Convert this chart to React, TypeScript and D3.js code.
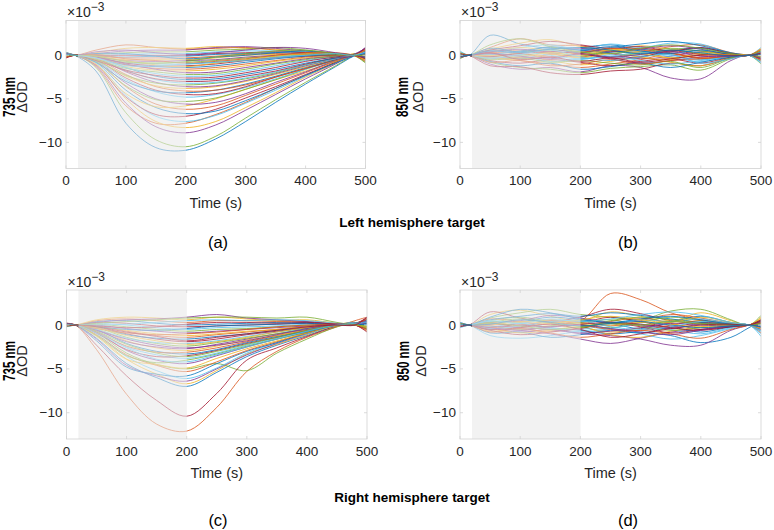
import React from 'react';
import * as d3 from 'd3';

// sample times (s) for every trace knot
const TIMES = [0, 15, 50, 100, 150, 200, 250, 300, 350, 400, 450, 480, 500];
const X_TICKS = [0, 100, 200, 300, 400, 500];
const Y_TICKS = [-10, -5, 0];
const Y_DOMAIN = [-13, 4];
const STIM = [20, 200];
const COLORS = ['#0072BD', '#D95319', '#EDB120', '#7E2F8E', '#77AC30', '#4DBEEE', '#A2142F'];

// ΔOD ×10^-3, left hemisphere target, 735 nm
const LEFT_735: number[][] = [
  [0.3, 0, -1.8, -7.8, -10.6, -10.9, -9.6, -7.6, -5.4, -3.3, -1.3, -0.1, 0.4],
  [-0.3, 0, -1.3, -5.8, -7.8, -7.8, -6.8, -5.4, -3.8, -2.3, -0.8, 0.1, 0.2],
  [0.2, 0, -1.0, -5.0, -7.6, -8.3, -7.6, -6.0, -4.3, -2.5, -0.9, 0.2, -0.3],
  [0.1, 0, -1.2, -5.5, -8.2, -8.9, -8.0, -6.3, -4.5, -2.7, -1.0, 0.1, 0.5],
  [-0.2, 0, -1.4, -6.6, -9.7, -10.5, -9.3, -7.2, -5.1, -3.1, -1.2, 0, 0.6],
  [0.1, 0, -0.9, -4.6, -7.0, -7.6, -6.9, -5.5, -4.0, -2.4, -0.8, 0, 0.7],
  [0.2, 0, -1.1, -4.8, -6.8, -7.0, -6.2, -4.9, -3.6, -2.2, -0.8, 0.1, -0.4],
  [-0.1, 0, -0.8, -4.0, -6.0, -6.7, -6.4, -5.2, -3.8, -2.3, -0.9, -0.1, 0.3],
  [0.3, 0, -0.7, -3.6, -5.6, -6.2, -5.8, -4.6, -3.3, -2.0, -0.7, 0, 0.5],
  [0, 0, -1.0, -4.4, -5.9, -5.8, -5.0, -3.9, -2.8, -1.8, -0.7, 0, -0.2],
  [0.1, 0, -0.6, -3.2, -5.0, -5.6, -5.4, -4.4, -3.1, -1.9, -0.6, 0.1, 0.8],
  [-0.2, 0, -0.7, -3.5, -5.1, -5.3, -4.9, -3.9, -2.8, -1.6, -0.5, 0, 0.1],
  [0.2, 0, -0.6, -2.8, -4.2, -4.8, -4.5, -3.7, -2.7, -1.6, -0.6, 0, 0.4],
  [-0.1, 0, -0.5, -2.6, -4.0, -4.5, -4.4, -3.6, -2.5, -1.5, -0.5, 0.1, -0.5],
  [0.1, 0, -0.8, -3.0, -4.1, -4.3, -4.0, -3.3, -2.4, -1.4, -0.5, 0, 0.6],
  [0, 0, -0.4, -2.2, -3.6, -4.1, -4.0, -3.4, -2.5, -1.5, -0.6, 0, 0.2],
  [0.3, 0, -0.5, -2.4, -3.5, -3.8, -3.6, -3.0, -2.2, -1.3, -0.4, 0.1, -0.1],
  [-0.2, 0, -0.3, -1.9, -3.1, -3.6, -3.5, -2.9, -2.1, -1.2, -0.4, 0, 0.9],
  [0.1, 0, -0.6, -2.3, -3.2, -3.4, -3.2, -2.7, -2.0, -1.1, -0.3, 0.1, 0.3],
  [0, 0, -0.3, -1.7, -2.8, -3.2, -3.1, -2.6, -1.9, -1.1, -0.4, 0, -0.6],
  [0.2, 0, -0.4, -1.8, -2.7, -3.0, -2.9, -2.4, -1.8, -1.0, -0.3, 0, 0.4],
  [-0.1, 0, -0.2, -1.4, -2.4, -2.8, -2.7, -2.2, -1.6, -0.9, -0.3, 0.1, 0.1],
  [0.2, 0, 0.6, 1.2, 0.9, 0.7, 0.8, 0.9, 0.6, 0.3, 0, 0, -0.4],
  [-0.1, 0, 0.3, 0.8, 0.9, 0.8, 1.0, 0.8, 0.7, 0.4, 0.1, 0, 0.5],
  [0.1, 0, 0.2, 0.5, 0.6, 0.6, 0.9, 1.0, 0.8, 0.5, 0.2, 0, 0.9],
  [0, 0, 0.1, 0.3, 0.4, 0.4, 0.6, 0.7, 0.9, 0.6, 0.2, 0, -0.8],
  [0.3, 0, 0, 0.1, 0.2, 0.2, 0.4, 0.5, 0.5, 0.4, 0.1, 0, 0.2],
  [-0.2, 0, 0, 0, 0, 0, 0.2, 0.3, 0.4, 0.3, 0.1, 0, 0.6],
  [0.1, 0, -0.1, -0.2, -0.1, -0.1, 0.1, 0.2, 0.3, 0.2, 0, 0, -0.3],
  [0.2, 0, -0.1, -0.3, -0.3, -0.3, -0.1, 0.1, 0.2, 0.1, 0, 0, 0.7],
  [0, 0, -0.2, -0.5, -0.5, -0.5, -0.3, 0, 0.1, 0.1, 0, 0, -0.5],
  [-0.1, 0, -0.2, -0.6, -0.7, -0.6, -0.5, -0.2, 0, 0.2, 0, 0, 0.3],
  [0.1, 0, -0.3, -0.8, -0.9, -0.8, -0.6, -0.3, -0.1, 0, 0.1, 0, -0.9],
  [0.3, 0, -0.3, -0.9, -1.0, -1.0, -0.8, -0.5, -0.2, 0, 0, 0, 0.4],
  [-0.3, 0, -0.2, -0.9, -1.2, -1.2, -1.0, -0.6, -0.3, -0.1, 0, 0, 0.8],
  [0, 0, -0.4, -1.1, -1.3, -1.4, -1.2, -0.8, -0.4, -0.1, 0, 0, -0.2],
  [0.2, 0, -0.3, -1.1, -1.5, -1.6, -1.4, -1.0, -0.6, -0.2, 0, 0, 0.1],
  [-0.1, 0, -0.4, -1.3, -1.7, -1.8, -1.6, -1.2, -0.7, -0.3, -0.1, 0, -0.6],
  [0.1, 0, -0.2, -1.0, -1.6, -2.0, -1.9, -1.4, -0.9, -0.4, -0.1, 0, 0.5],
  [0, 0, -0.5, -1.5, -1.9, -2.2, -2.1, -1.6, -1.0, -0.5, -0.1, 0, -0.1],
  [0.2, 0, -0.3, -1.4, -2.1, -2.4, -2.3, -1.8, -1.2, -0.6, -0.2, 0, 0.3],
  [-0.2, 0, -0.6, -1.7, -2.3, -2.6, -2.5, -2.0, -1.4, -0.7, -0.2, 0, -0.4],
  [0.1, 0, 0.2, 0.2, -0.1, -0.4, -0.2, 0, 0.3, 0.5, 0.2, 0, 0.2],
  [0, 0, 0.1, -0.4, -0.6, -0.9, -0.7, -0.4, 0, 0.3, 0.3, 0, -0.7],
  [-0.1, 0, -0.1, -0.6, -1.1, -1.3, -0.9, -0.5, -0.1, 0.2, 0.2, 0, 0.6],
  [0.2, 0, 0.4, 0.6, 0.3, 0.1, 0.3, 0.6, 0.9, 0.8, 0.3, 0, -0.2],
  [0, 0, -0.1, -0.7, -0.9, -0.7, -0.2, 0.2, 0.5, 0.6, 0.2, 0, 0],
  [0.1, 0, -0.3, -1.2, -1.2, -1.0, -0.8, -0.6, -0.3, 0, 0.2, 0, 0.4],
];

// ΔOD ×10^-3, left hemisphere target, 850 nm
const LEFT_850: number[][] = [
  [0.3, 0, 2.3, 1.3, 0.8, 0.9, 1.2, 0.7, 0.6, 0.9, 0.2, 0, 0.5],
  [-0.2, 0, 0.9, 1.9, 1.2, 1.1, 0.5, 0.4, 1.0, 1.2, 0.3, 0, -0.3],
  [0.1, 0, 0.7, 1.4, 1.8, 1.0, 0.6, 1.1, 0.7, 0.5, 0.1, 0, 0.7],
  [0, 0, -1.0, -1.6, -1.4, -1.9, -1.2, -1.4, -2.6, -2.7, -0.6, 0, -0.7],
  [-0.4, 0, -0.8, -1.4, -1.6, -2.0, -1.5, -1.3, -1.1, -1.7, -0.4, 0, -1.0],
  [0.5, 0, 0.4, 0.9, 1.2, 0.7, 1.3, 0.9, 1.4, 1.3, 0.2, 0, 0.9],
  [0.2, 0, -1.2, -1.3, -2.0, -2.2, -1.8, -1.6, -0.9, -1.2, -0.3, 0, -0.4],
  [-0.1, 0, 0.6, 0.4, 0.7, 0.3, 0.9, 1.3, 1.6, 1.1, 0.3, 0, 0.2],
  [0.2, 0, 0.3, 0.6, 0.2, -0.2, 0.4, 0.8, 0.3, -0.4, -0.1, 0, 0.6],
  [0, 0, -0.4, -0.2, -0.6, -1.1, -0.7, -0.3, -0.8, -1.2, -0.2, 0, -0.5],
  [-0.3, 0, 0.2, -0.3, 0.1, 0.5, 0.2, -0.4, -0.1, 0.4, 0.1, 0, 0.3],
  [0.1, 0, -0.2, 0.3, 0.6, 0.4, -0.2, 0.3, 0.8, 0.5, 0.1, 0, -0.2],
  [0.4, 0, 0.5, 0.1, -0.3, -0.5, 0.1, 0.5, -0.2, -0.7, -0.1, 0, 0.4],
  [-0.2, 0, -0.6, -0.9, -0.5, -0.8, -1.2, -0.7, -0.4, -0.9, -0.2, 0, 0.1],
  [0, 0, 0.1, 0.5, 0.9, 0.6, 0.3, -0.1, 0.4, 0.8, 0.2, 0, -0.6],
  [0.2, 0, -0.3, -0.6, -1.0, -1.4, -1.0, -0.5, 0.2, -0.3, -0.1, 0, 0.3],
  [-0.1, 0, 0.4, 0.9, 0.5, 0.2, 0.7, 0.4, -0.3, 0.1, 0.1, 0, 0.8],
  [0.1, 0, -0.1, -0.4, -0.2, 0.1, -0.4, -0.9, -0.6, -0.2, 0, 0, -0.3],
  [0.3, 0, 0.2, 0.0, 0.3, -0.1, 0.5, 0.1, 0.6, 0.2, 0.1, 0, 0.2],
  [-0.2, 0, -0.4, -0.1, -0.7, -0.4, -0.1, -0.6, -1.0, -0.6, -0.1, 0, -0.8],
  [0, 0, 0.6, 1.1, 1.6, 1.2, 0.8, 1.0, 0.5, 0.9, 0.2, 0, 0.3],
  [0.2, 0, -0.7, -1.2, -0.9, -1.6, -1.3, -0.9, -1.4, -0.8, -0.2, 0, 0.5],
  [-0.1, 0, 0.3, 0.2, -0.2, 0.3, 0.8, 0.6, 0.2, -0.3, -0.1, 0, -0.1],
  [0.1, 0, -0.2, -0.5, 0.1, -0.3, 0.2, -0.2, -0.5, 0.3, 0.1, 0, 0.6],
  [0, 0, 0.4, 0.7, 0.4, 0.8, 0.4, 0.7, 1.1, 0.7, 0.1, 0, -0.4],
  [-0.3, 0, -0.5, -0.3, -0.8, -0.6, -0.9, -1.1, -0.7, -1.4, -0.3, 0, -0.2],
  [0.2, 0, 0.1, 0.4, 0.0, -0.4, -0.1, 0.3, 0.0, -0.5, -0.1, 0, 0.4],
  [0, 0, -0.1, 0.2, 0.4, 0.2, -0.3, -0.2, 0.5, 0.1, 0.1, 0, -0.5],
  [0.1, 0, 0.8, 0.4, 1.0, 0.6, 1.0, 0.5, 0.2, 0.6, 0.1, 0, 0.1],
  [-0.1, 0, -0.8, -0.6, -1.2, -1.0, -0.5, -1.0, -0.6, -0.4, -0.1, 0, 0.7],
  [0.3, 0, 0.0, -0.2, 0.3, 0.0, 0.6, 0.2, -0.3, 0.0, 0.1, 0, -0.6],
  [-0.2, 0, 0.2, -0.1, -0.4, 0.2, -0.2, 0.1, 0.4, -0.1, -0.1, 0, 0.3],
  [0.1, 0, 1.2, 1.9, 1.0, 0.4, 0.2, 0.8, 1.2, 0.8, 0.2, 0, 0.5],
  [0, 0, -0.3, 0.1, 0.6, -0.2, -0.6, -0.2, 0.1, -0.9, -0.4, 0, -0.9],
  [0.2, 0, 0.3, -0.5, -0.2, -0.7, -0.3, -0.8, -0.4, 0.0, 0.0, 0, 0.2],
  [-0.1, 0, 0.5, 0.3, 0.7, 0.9, 0.6, 0.2, 0.6, 0.3, -0.1, 0, 0.1],
];

// ΔOD ×10^-3, right hemisphere target, 735 nm
const RIGHT_735: number[][] = [
  [0.1, 0, -1.5, -4.4, -6.0, -7.0, -5.4, -3.6, -2.3, -1.2, -0.1, 0.2, 0.6],
  [0.2, 0, -2.8, -7.9, -11.3, -12.1, -9.4, -5.3, -3.0, -1.4, -0.2, 0.5, 0.9],
  [0, 0, -1.2, -3.9, -5.6, -6.7, -5.2, -3.3, -2.2, -1.1, 0, 0.3, -0.5],
  [0.2, 0, -1.6, -4.6, -5.8, -6.4, -5.0, -3.4, -2.1, -1.0, 0, 0.1, 0.4],
  [0, 0, -0.9, -3.2, -4.5, -5.0, -4.4, -5.2, -3.2, -1.6, -0.2, 0.2, 0.3],
  [-0.2, 0, -1.0, -3.6, -5.2, -6.1, -4.9, -3.2, -2.0, -1.0, -0.1, 0.2, 0.7],
  [-0.1, 0, -2.3, -5.8, -8.6, -10.4, -7.8, -4.0, -2.6, -1.3, -0.1, 0.3, -0.3],
  [0.1, 0, -1.8, -4.8, -5.6, -5.8, -4.4, -3.0, -2.0, -0.9, 0, 0.1, -0.2],
  [0.2, 0, -1.1, -3.4, -4.6, -5.3, -4.2, -2.9, -1.9, -0.9, 0, 0.2, 0.8],
  [-0.1, 0, -1.3, -3.9, -4.5, -4.9, -3.8, -2.7, -1.8, -0.9, -0.1, 0, -0.6],
  [0.1, 0, -0.8, -2.9, -4.0, -4.4, -3.5, -2.5, -1.6, -0.8, 0, 0.2, 0.2],
  [0, 0, -1.2, -3.5, -4.3, -4.0, -3.3, -2.4, -1.6, -0.8, 0, 0.1, 0.5],
  [-0.2, 0, -0.7, -2.5, -3.4, -3.8, -3.2, -2.3, -1.5, -0.7, 0, 0.3, -0.3],
  [0.1, 0, -0.9, -2.8, -3.6, -3.5, -2.9, -2.1, -1.4, -0.6, 0.1, 0.2, 0.6],
  [0.2, 0, -0.5, -2.1, -3.0, -3.3, -2.8, -2.0, -1.3, -0.7, 0, 0.1, 0.1],
  [-0.1, 0, -0.8, -2.4, -3.1, -3.1, -2.6, -1.9, -1.2, -0.6, 0, 0, -0.7],
  [0, 0, -0.4, -1.8, -2.6, -2.9, -2.4, -1.7, -1.2, -0.5, 0.1, 0.2, 0.4],
  [0.1, 0, -0.6, -1.9, -2.5, -2.7, -2.2, -1.6, -1.0, -0.5, 0, 0.1, 0.9],
  [-0.2, 0, -0.3, -1.4, -2.1, -2.4, -2.0, -1.5, -1.0, -0.4, 0, 0.1, -0.2],
  [0.2, 0, -0.5, -1.5, -2.0, -2.1, -1.8, -1.3, -0.8, -0.4, 0.1, 0.1, 0.3],
  [0, 0, -0.2, -1.0, -1.6, -1.9, -1.6, -1.1, -0.7, -0.3, 0, 0, -0.4],
  [0.1, 0, -0.3, -1.1, -1.5, -1.6, -1.3, -1.0, -0.6, -0.3, 0, 0.2, 0.5],
  [-0.1, 0, -0.1, -0.7, -1.2, -1.4, -1.1, -0.8, -0.5, -0.2, 0, 0, 0.2],
  [0.2, 0, -0.2, -0.6, -1.0, -1.2, -1.0, -0.7, -0.5, -0.1, 0.1, 0.1, -0.5],
  [0, 0, 0, -0.4, -0.7, -0.9, -0.7, -0.5, -0.3, -0.1, 0, 0, 0.6],
  [0.1, 0, 0.1, -0.2, -0.5, -0.7, -0.5, -0.4, -0.2, 0, 0.1, 0.1, -0.1],
  [-0.2, 0, 0.2, 0.0, -0.3, -0.5, -0.3, -0.2, -0.1, 0.1, 0.1, 0, 0.4],
  [0.1, 0, 0.3, 0.2, -0.1, -0.2, -0.1, 0, 0.1, 0.2, 0, 0, -0.8],
  [0, 0, 0.4, 0.5, 0.2, 0.0, 0.1, 0.2, 0.3, 0.3, 0.1, 0, 0.2],
  [0.2, 0, 0.5, 0.7, 0.5, 0.3, 0.5, 0.5, 0.4, 0.4, 0.1, 0, 0.7],
  [-0.1, 0, 0.6, 0.9, 0.8, 0.6, 0.9, 0.7, 0.5, 0.6, 0.2, 0, -0.3],
  [0.1, 0, 0.3, 0.6, 0.7, 0.9, 1.2, 0.8, 0.6, 0.4, 0.1, 0, 0.3],
  [0, 0, 0.2, 0.4, 0.6, 0.8, 0.9, 0.9, 0.8, 0.9, 0.3, 0, -0.1],
  [-0.1, 0, 0, 0.1, 0.3, 0.5, 0.6, 0.5, 0.6, 0.5, 0.2, 0, 0.5],
  [0.2, 0, -0.1, -0.3, -0.2, 0.1, 0.3, 0.3, 0.2, 0.3, 0.1, 0, -0.5],
  [0, 0, -0.2, -0.5, -0.6, -0.4, -0.1, 0, 0.1, 0.2, 0, 0, 0.1],
  [0.1, 0, -0.4, -0.9, -1.1, -1.0, -0.8, -0.5, -0.2, 0, 0.1, 0.1, 0.8],
  [-0.1, 0, -0.3, -1.2, -1.8, -2.2, -1.9, -1.4, -0.8, -0.3, 0, 0, -0.2],
  [0.2, 0, -0.6, -1.6, -2.3, -2.6, -2.3, -1.8, -1.1, -0.4, 0.1, 0.1, 0.4],
  [0, 0, -0.7, -2.2, -3.2, -3.6, -3.0, -2.2, -1.4, -0.6, 0, 0.1, -0.4],
  [0.1, 0, -0.9, -2.6, -3.9, -4.2, -3.4, -2.5, -1.6, -0.7, 0, 0.2, 0.3],
  [-0.1, 0, -0.2, -0.8, -1.3, -1.8, -1.4, -1.0, -0.6, -0.2, 0, 0, 0.9],
];

// ΔOD ×10^-3, right hemisphere target, 850 nm
const RIGHT_850: number[][] = [
  [0.1, 0, 0.4, 0.2, -0.3, -0.6, -1.0, -0.8, -1.2, -2.0, -1.4, -0.3, 0.4],
  [0.2, 0, 0.3, 0.4, 0.6, 0.5, 3.6, 2.9, 1.4, 0.6, 0.2, 0, -0.5],
  [0.2, 0, 1.2, 1.7, 1.0, 0.5, 1.5, 1.0, 0.4, 1.4, 0.5, 0, 0.9],
  [-0.1, 0, -0.4, -0.8, -0.5, -1.0, -1.2, -1.6, -2.3, -2.3, -0.6, 0, 0.6],
  [-0.2, 0, 0.8, 1.4, 1.8, 1.2, 0.9, 0.6, 1.6, 1.8, 0.6, 0, 1.1],
  [0.1, 0, -1.2, -1.5, -1.2, -0.7, -0.4, -1.0, -1.6, -1.2, -0.4, 0, -1.3],
  [0, 0, 1.5, 0.8, 0.4, 0.9, 1.8, 1.3, 0.5, 0.2, 0.2, 0, 0.2],
  [0.3, 0, -0.5, 0.3, 0.9, 0.6, 0.2, -0.4, 0.3, 1.0, 0.3, 0, -0.7],
  [-0.1, 0, 0.2, -0.4, -0.7, -0.3, 0.4, 0.8, 0.2, -0.5, -0.2, 0, 0.5],
  [0.1, 0, -0.7, -0.3, 0.2, -0.2, -0.8, -0.3, 0.6, 0.3, 0, 0, -0.2],
  [0, 0, -0.3, -0.6, -1.0, -1.6, -2.1, -1.5, -0.8, -0.5, -0.2, 0, -0.3],
  [0, 0, 0.5, 0.9, 0.4, 0.1, -0.3, 0.3, 0.9, 0.5, 0.1, 0, 0.6],
  [-0.2, 0, -0.2, 0.2, -0.3, -0.8, -0.4, 0.1, -0.5, -1.0, -0.3, 0, -0.4],
  [0.2, 0, 0.3, -0.2, 0.5, 0.3, 0.9, 0.4, -0.2, 0.3, 0.1, 0, 0.3],
  [0, 0, -0.9, -0.8, -1.4, -1.1, -0.6, -0.9, -0.3, -0.8, -0.2, 0, 0],
  [0.1, 0, 0.7, 0.4, 0.0, 0.4, -0.1, 0.5, 1.2, 0.8, 0.2, 0, -0.9],
  [-0.1, 0, -0.4, -0.9, -0.6, -0.2, -1.1, -1.4, -0.7, -0.2, 0.1, 0, 0.7],
  [0.2, 0, 0.1, 0.5, 1.1, 0.8, 0.3, 0.0, -0.4, 0.1, 0.1, 0, -0.1],
  [0, 0, -0.1, -0.5, -0.1, 0.3, 0.6, -0.1, -0.6, -0.3, -0.1, 0, 0.4],
  [-0.3, 0, 0.4, 0.1, -0.4, -0.5, 0.1, 0.6, 0.4, 0.7, 0.2, 0, -0.6],
  [0.1, 0, -0.6, -1.1, -0.8, -0.4, 0.2, -0.2, -0.9, -0.5, -0.1, 0, 0.2],
  [0, 0, 0.6, 1.0, 1.3, 1.0, 1.4, 1.1, 0.7, 0.3, 0.1, 0, 0.5],
  [0.2, 0, -0.3, 0.0, 0.3, 0.0, -0.5, -0.6, 0.0, 0.5, 0.1, 0, -0.3],
  [-0.1, 0, 0.2, 0.3, 0.6, 0.2, 0.0, 0.3, 0.1, -0.2, 0, 0, 0.8],
  [0.1, 0, -0.1, -0.3, -0.5, -0.9, -0.7, -0.3, 0.2, 0.0, -0.1, 0, -0.5],
  [0, 0, 0.3, 0.7, 0.2, -0.3, 0.5, 0.9, 0.6, 0.2, 0.1, 0, 0.1],
  [0.2, 0, -0.4, -0.1, 0.4, 0.5, -0.2, -0.5, -0.2, 0.4, 0.2, 0, -1.0],
  [-0.2, 0, 0.1, 0.0, -0.2, 0.1, 0.3, 0.1, -0.3, -0.6, -0.2, 0, 0.6],
  [0.1, 0, 0.9, 1.8, 1.4, 0.7, 0.3, 0.7, 1.0, 0.6, 0.1, 0, -0.2],
  [0, 0, -0.8, -0.4, -0.9, -1.4, -1.0, -0.6, -1.0, -1.5, -0.5, 0, 0.3],
  [0.1, 0, 0.0, 0.4, 0.2, 0.6, 1.0, 0.6, 0.3, 0.9, 0.3, 0, -0.4],
  [-0.1, 0, -0.3, -0.6, -0.2, 0.0, -0.4, -0.8, -1.1, -0.6, -0.1, 0, 0.4],
  [0.2, 0, 0.2, -0.1, -0.5, -0.2, 0.2, 0.0, 0.4, 0.1, 0.0, 0, 0.2],
  [0, 0, 0.5, 0.2, 0.7, 0.4, 0.7, 1.2, 1.5, 1.1, 0.3, 0, -0.7],
  [-0.1, 0, -0.5, -0.3, 0.1, -0.5, -1.4, -1.0, -0.4, 0.0, 0.1, 0, 0.5],
  [0.1, 0, 0.1, 0.6, 0.3, -0.1, 0.2, 0.4, 0.0, -0.3, -0.1, 0, -0.2],
];

const FONT = '"Liberation Sans", Arial, Helvetica, sans-serif';
const TICK_COLOR = '#262626';
const FRAME = '#d2d2d2';

type PanelProps = {
  id: string;
  data: number[][];
  wavelength: string;
  left: number;
  right: number;
  top: number;
  bottom: number;
  letter: string;
  letterX: number;
  letterY: number;
  ylabX1: number;
  ylabX2: number;
  ylabY: number;
};

function Panel(p: PanelProps) {
  const x = d3.scaleLinear().domain([0, 500]).range([p.left, p.right]);
  const y = d3.scaleLinear().domain(Y_DOMAIN).range([p.bottom, p.top]);
  const line = d3
    .line<number>()
    .x((_, i) => x(TIMES[i]))
    .y((d) => y(d))
    .curve(d3.curveCatmullRom.alpha(0.5));
  const clipId = `clip-${p.id}`;
  const sx0 = x(STIM[0]);
  const sx1 = x(STIM[1]);
  const tickLen = 3;
  const tickY = p.bottom + 12;
  const cx = (p.left + p.right) / 2;
  return (
    <g>
      <defs>
        <clipPath id={clipId}>
          <rect x={p.left} y={p.top} width={p.right - p.left} height={p.bottom - p.top} />
        </clipPath>
      </defs>
      <rect x={p.left} y={p.top} width={p.right - p.left} height={p.bottom - p.top} fill="#fff" />
      <rect x={sx0} y={p.top} width={sx1 - sx0} height={p.bottom - p.top} fill="#f2f2f2" />
      <g clipPath={`url(#${clipId})`}>
        {p.data.map((d, i) => (
          <path
            key={i}
            d={line(d) || ''}
            fill="none"
            stroke={COLORS[i % COLORS.length]}
            strokeWidth={0.8}
          />
        ))}
      </g>
      <rect x={sx0} y={p.top} width={sx1 - sx0} height={p.bottom - p.top} fill="#f2f2f2" opacity={0.55} />
      <rect
        x={p.left}
        y={p.top}
        width={p.right - p.left}
        height={p.bottom - p.top}
        fill="none"
        stroke={FRAME}
        strokeWidth={0.8}
      />
      {X_TICKS.map((t) => (
        <g key={`x${t}`}>
          <line x1={x(t)} x2={x(t)} y1={p.bottom} y2={p.bottom - tickLen} stroke={FRAME} strokeWidth={0.8} />
          <line x1={x(t)} x2={x(t)} y1={p.top} y2={p.top + tickLen} stroke={FRAME} strokeWidth={0.8} />
          <text
            x={x(t)}
            y={tickY}
            textAnchor="middle"
            dominantBaseline="central"
            fontSize={13.5}
            fill={TICK_COLOR}
            fontFamily={FONT}
          >
            {t}
          </text>
        </g>
      ))}
      {Y_TICKS.map((t) => (
        <g key={`y${t}`}>
          <line x1={p.left} x2={p.left + tickLen} y1={y(t)} y2={y(t)} stroke={FRAME} strokeWidth={0.8} />
          <line x1={p.right} x2={p.right - tickLen} y1={y(t)} y2={y(t)} stroke={FRAME} strokeWidth={0.8} />
          <text
            x={p.left - 4}
            y={y(t)}
            textAnchor="end"
            dominantBaseline="central"
            fontSize={13.5}
            fill={TICK_COLOR}
            fontFamily={FONT}
          >
            {t < 0 ? `\u2212${Math.abs(t)}` : `${t}`}
          </text>
        </g>
      ))}
      <text x={p.left + 1} y={p.top - 3.5} fontSize={14} fill={TICK_COLOR} fontFamily={FONT}>
        ×10
        <tspan dy={-6} fontSize={12}>
          −3
        </tspan>
      </text>
      <text
        x={cx}
        y={p.bottom + 34}
        textAnchor="middle"
        dominantBaseline="central"
        fontSize={14.5}
        fill={TICK_COLOR}
        fontFamily={FONT}
      >
        Time (s)
      </text>
      <text
        transform={`translate(${p.ylabX1},${p.ylabY}) rotate(-90)`}
        textAnchor="middle"
        dominantBaseline="central"
        fontSize={16}
        fontWeight="bold"
        fill="#000"
        fontFamily={FONT}
        textLength={40}
        lengthAdjust="spacingAndGlyphs"
      >
        {p.wavelength}
      </text>
      <text
        transform={`translate(${p.ylabX2},${p.ylabY}) rotate(-90)`}
        textAnchor="middle"
        dominantBaseline="central"
        fontSize={14.5}
        fill={TICK_COLOR}
        fontFamily={FONT}
      >
        ΔOD
      </text>
      <text
        x={p.letterX}
        y={p.letterY}
        textAnchor="middle"
        dominantBaseline="central"
        fontSize={16.5}
        fill="#000"
        fontFamily={FONT}
      >
        {p.letter}
      </text>
    </g>
  );
}

export default function App() {
  return (
    <svg
      width={774}
      height={530}
      viewBox="0 0 774 530"
      style={{ position: 'absolute', left: 0, top: 0, background: '#fff' }}
    >
      <rect x={0} y={0} width={774} height={530} fill="#fff" />
      <Panel
        id="a"
        data={LEFT_735}
        wavelength="735 nm"
        left={66}
        right={365.5}
        top={20.5}
        bottom={168.5}
        letter="(a)"
        letterX={218}
        letterY={242}
        ylabX1={9.5}
        ylabX2={22}
        ylabY={97}
      />
      <Panel
        id="b"
        data={LEFT_850}
        wavelength="850 nm"
        left={460}
        right={761}
        top={20.5}
        bottom={168.5}
        letter="(b)"
        letterX={628}
        letterY={242}
        ylabX1={402}
        ylabX2={418}
        ylabY={97}
      />
      <Panel
        id="c"
        data={RIGHT_735}
        wavelength="735 nm"
        left={66.5}
        right={367}
        top={290}
        bottom={439}
        letter="(c)"
        letterX={218}
        letterY={520}
        ylabX1={9.5}
        ylabX2={22}
        ylabY={361}
      />
      <Panel
        id="d"
        data={RIGHT_850}
        wavelength="850 nm"
        left={460}
        right={761}
        top={290}
        bottom={439}
        letter="(d)"
        letterX={628}
        letterY={520}
        ylabX1={403}
        ylabX2={421}
        ylabY={361}
      />
      <text
        x={412}
        y={222}
        textAnchor="middle"
        dominantBaseline="central"
        fontSize={13.5}
        fontWeight="bold"
        fill="#000"
        fontFamily={FONT}
      >
        Left hemisphere target
      </text>
      <text
        x={412}
        y={497}
        textAnchor="middle"
        dominantBaseline="central"
        fontSize={13.5}
        fontWeight="bold"
        fill="#000"
        fontFamily={FONT}
      >
        Right hemisphere target
      </text>
    </svg>
  );
}
